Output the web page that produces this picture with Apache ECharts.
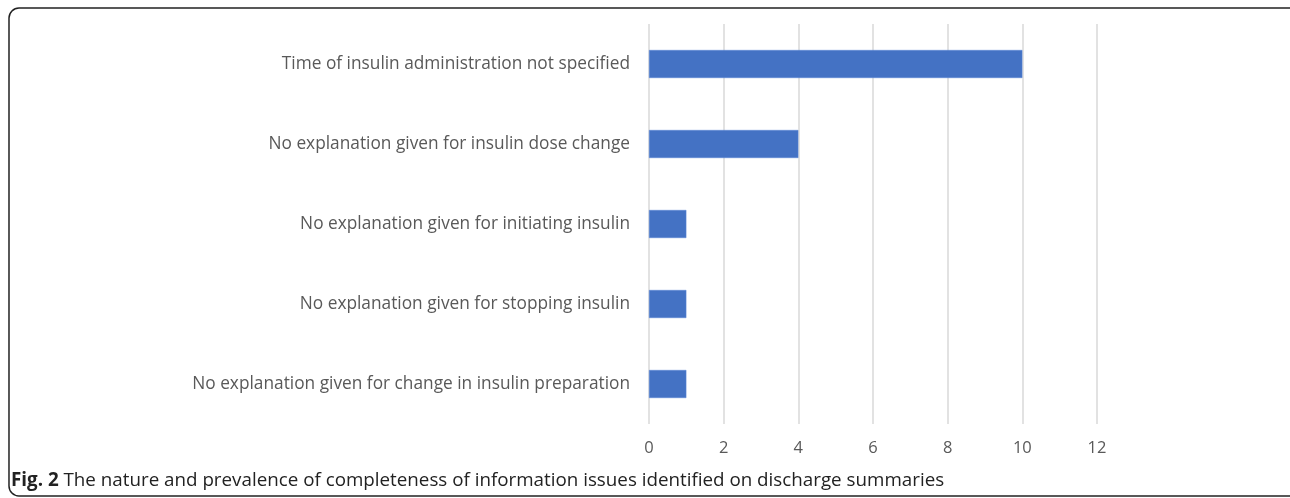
<!DOCTYPE html>
<html>
<head>
<meta charset="utf-8">
<script src="https://cdn.jsdelivr.net/npm/echarts@6/dist/echarts.min.js"></script>
<style>
  html, body { margin: 0; padding: 0; background: #fff; }
  #chart { width: 1290px; height: 498px; }
</style>
</head>
<body>
<div id="chart"></div>
<script>
// issue categories, top to bottom
var issues = [
  'Time of insulin administration not specified',
  'No explanation given for insulin dose change',
  'No explanation given for initiating insulin',
  'No explanation given for stopping insulin',
  'No explanation given for change in insulin preparation'
]
var counts = [10, 4, 1, 1, 1]
var xTicks = [0, 2, 4, 6, 8, 10, 12]

var myChart = echarts.init(document.getElementById('chart'))
option = {
  animation: false,
  textStyle: { fontFamily: 'Open Sans' },
  graphic: [{
    type: 'rect',
    shape: { x: 9, y: 8, width: 1290, height: 488, r: 10 },
    style: { fill: 'none', stroke: '#222', lineWidth: 1.5 }
  }, {
    type: 'text',
    left: 11,
    top: 471,
    style: {
      text: '{b|Fig. 2} The nature and prevalence of completeness of information issues identified on discharge summaries',
      font: '18.8px "Open Sans"',
      fill: '#222',
      rich: {
        b: { fontWeight: 'bold', fontSize: 18.8, fontFamily: 'Open Sans', fill: '#222' }
      }
    }
  }],
  grid: {
    left: 649,
    right: 193,
    top: 24,
    height: 400
  },
  xAxis: {
    type: 'value',
    min: xTicks[0],
    max: xTicks[xTicks.length - 1],
    interval: 2,
    axisLine: { show: false },
    axisTick: { show: false },
    axisLabel: { color: '#595959', fontSize: 16.5, margin: 16 },
    splitLine: { lineStyle: { color: '#d9d9d9', width: 1.5 } }
  },
  yAxis: {
    type: 'category',
    inverse: true,
    data: issues,
    axisLine: { show: false },
    axisTick: { show: false },
    axisLabel: { color: '#595959', fontSize: 17.3, margin: 19 }
  },
  series: [{
    type: 'bar',
    data: counts,
    barWidth: '35%',
    itemStyle: { color: '#4472c4', borderColor: '#5b87d6', borderWidth: 0.5 }
  }]
}
myChart.setOption(option)
</script>
</body>
</html>
